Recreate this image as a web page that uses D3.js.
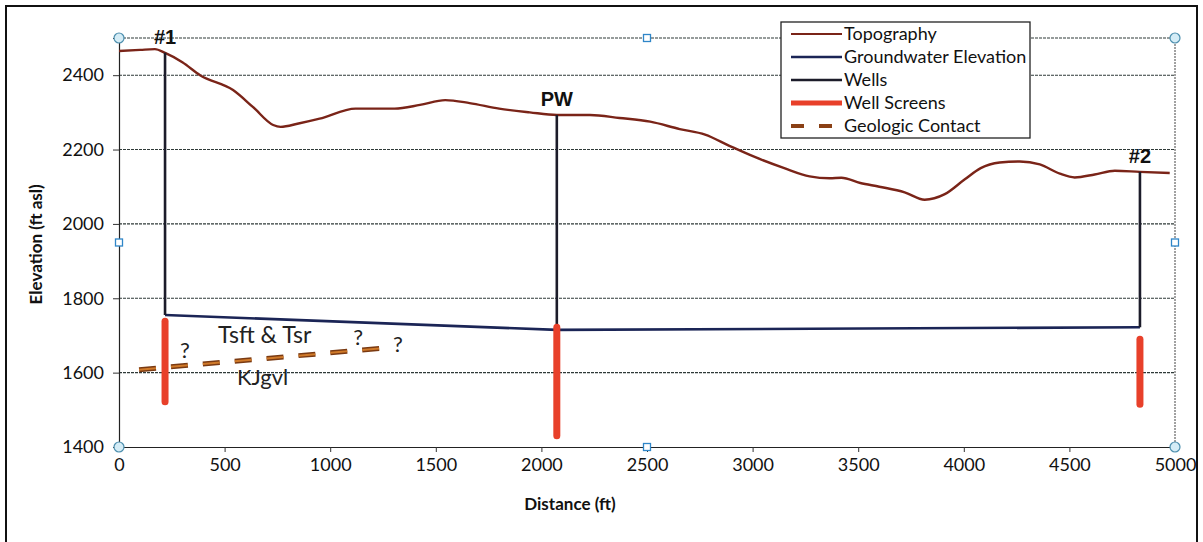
<!DOCTYPE html>
<html>
<head>
<meta charset="utf-8">
<script src="https://cdn.jsdelivr.net/npm/d3@7"></script>
<style>
  body { margin: 0; background: #fff; }
  svg { display: block; font-family: Lato, "Open Sans", sans-serif; }
</style>
</head>
<body>
<div id="chart"></div>
<script>
// chart data
const topoDist = [0, 100, 170, 218, 300, 384, 540, 635, 730, 765, 850, 950, 1120, 1305, 1425, 1545, 1660, 1800, 1945, 2073, 2230, 2370, 2515, 2655, 2775, 2890, 3010, 3150, 3270, 3365, 3420, 3510, 3600, 3720, 3815, 3910, 4005, 4080, 4170, 4265, 4360, 4455, 4525, 4620, 4715, 4834, 4975];
const topoElev = [2465, 2468, 2470, 2460, 2435, 2400, 2360, 2314, 2266, 2261, 2270, 2283, 2310, 2310, 2320, 2333, 2325, 2310, 2300, 2293, 2293, 2285, 2275, 2255, 2240, 2210, 2180, 2150, 2128, 2123, 2124, 2110, 2100, 2085, 2065, 2080, 2120, 2150, 2165, 2168, 2160, 2135, 2125, 2133, 2143, 2140, 2137];

const wellNames = ["#1", "PW", "#2"];
const wellDist = [218, 2073, 4834];
const wellTop = [2460, 2293, 2140];
const wellBottom = [1755, 1715, 1722];
const screenTop = [1738, 1722, 1690];
const screenBottom = [1522, 1430, 1515];

const gwDist = [218, 2073, 4834];
const gwElev = [1755, 1715, 1722];

const contactDist = [95, 1235];
const contactElev = [1608, 1665];

const xTicks = [0, 500, 1000, 1500, 2000, 2500, 3000, 3500, 4000, 4500, 5000];
const yTicks = [1400, 1600, 1800, 2000, 2200, 2400];

const legendItems = ["Topography", "Groundwater Elevation", "Wells", "Well Screens", "Geologic Contact"];

const width = 1203, height = 542;
const margin = { top: 38, right: 28, bottom: 95, left: 119 };

const svg = d3.select("#chart").append("svg")
  .attr("width", width)
  .attr("height", height);

// outer frame
svg.append("rect")
  .attr("x", 6).attr("y", 6)
  .attr("width", 1191).attr("height", 560)
  .attr("fill", "none").attr("stroke", "#111").attr("stroke-width", 2);

const x = d3.scaleLinear().domain([0, 5000]).range([margin.left, width - margin.right]);
const y = d3.scaleLinear().domain([1400, 2500]).range([height - margin.bottom, margin.top]);

// gridlines
svg.append("g")
  .selectAll("line")
  .data(yTicks.slice(1).concat([2500]))
  .join("line")
  .attr("x1", x(0)).attr("x2", x(5000))
  .attr("y1", d => y(d)).attr("y2", d => y(d))
  .attr("stroke", "#2f3a38").attr("stroke-width", 1.1).attr("stroke-dasharray", "3,1");

svg.append("line")
  .attr("x1", x(5000)).attr("x2", x(5000))
  .attr("y1", y(2500)).attr("y2", y(1400))
  .attr("stroke", "#444").attr("stroke-width", 1).attr("stroke-dasharray", "2,1");

// axes
const xAxis = svg.append("g")
  .attr("transform", `translate(0,${y(1400)})`)
  .call(d3.axisBottom(x).tickValues(xTicks).tickSize(5).tickPadding(6).tickFormat(d3.format("d")));
xAxis.select(".domain").attr("stroke", "#222").attr("stroke-width", 1.2);
xAxis.selectAll("line").attr("stroke", "#333");
xAxis.selectAll("text").attr("font-size", 18).attr("fill", "#111").attr("font-family", "Lato, sans-serif");

const yAxis = svg.append("g")
  .attr("transform", `translate(${x(0)},0)`)
  .call(d3.axisLeft(y).tickValues(yTicks).tickSize(6).tickPadding(9).tickFormat(d3.format("d")));
yAxis.select(".domain").attr("stroke", "#222").attr("stroke-width", 1.2);
yAxis.selectAll("line").attr("stroke", "#333");
yAxis.selectAll("text").attr("font-size", 18).attr("fill", "#111").attr("font-family", "Lato, sans-serif");

// axis titles
svg.append("text")
  .attr("x", 570).attr("y", 510)
  .attr("text-anchor", "middle")
  .attr("font-size", 17).attr("font-weight", "bold").attr("fill", "#111")
  .text("Distance (ft)");

svg.append("text")
  .attr("transform", `translate(42,${y(1945)}) rotate(-90)`)
  .attr("text-anchor", "middle")
  .attr("font-size", 17).attr("font-weight", "bold").attr("fill", "#111")
  .text("Elevation (ft asl)");

// topography
const line = d3.line().x(d => x(d[0])).y(d => y(d[1])).curve(d3.curveMonotoneX);
svg.append("path")
  .datum(d3.zip(topoDist, topoElev))
  .attr("d", line)
  .attr("fill", "none").attr("stroke", "#7a2418").attr("stroke-width", 2.4);

// groundwater
svg.append("path")
  .datum(d3.zip(gwDist, gwElev))
  .attr("d", d3.line().x(d => x(d[0])).y(d => y(d[1])))
  .attr("fill", "none").attr("stroke", "#1b2556").attr("stroke-width", 2.6);

// wells
svg.append("g")
  .selectAll("line")
  .data(wellDist)
  .join("line")
  .attr("x1", d => x(d)).attr("x2", d => x(d))
  .attr("y1", (d, i) => y(wellTop[i])).attr("y2", (d, i) => y(wellBottom[i]))
  .attr("stroke", "#1c1c2a").attr("stroke-width", 2.6);

// well screens
svg.append("g")
  .selectAll("line")
  .data(wellDist)
  .join("line")
  .attr("x1", d => x(d)).attr("x2", d => x(d))
  .attr("y1", (d, i) => y(screenTop[i])).attr("y2", (d, i) => y(screenBottom[i]))
  .attr("stroke", "#e8402a").attr("stroke-width", 7).attr("stroke-linecap", "round");

// geologic contact
svg.append("line")
  .attr("x1", x(contactDist[0])).attr("x2", x(contactDist[1]))
  .attr("y1", y(contactElev[0])).attr("y2", y(contactElev[1]))
  .attr("stroke", "#7a3a12").attr("stroke-width", 5).attr("stroke-dasharray", "17,15");
svg.append("line")
  .attr("x1", x(contactDist[0])).attr("x2", x(contactDist[1]))
  .attr("y1", y(contactElev[0])).attr("y2", y(contactElev[1]))
  .attr("stroke", "#d07a2a").attr("stroke-width", 2).attr("stroke-dasharray", "17,15");

// well labels
svg.append("g")
  .selectAll("text")
  .data(wellNames)
  .join("text")
  .attr("x", (d, i) => x(wellDist[i]))
  .attr("y", (d, i) => y(wellTop[i]) - 9)
  .attr("text-anchor", "middle")
  .attr("font-family", "'Liberation Sans Narrow', 'Liberation Sans', sans-serif")
  .attr("font-weight", "bold").attr("font-size", 20).attr("fill", "#111")
  .text(d => d);

// unit labels
const notes = [
  { t: "Tsft & Tsr", d: 690, e: 1680, s: 23 },
  { t: "KJgvl", d: 680, e: 1567, s: 22 },
  { t: "?", d: 312, e: 1639, s: 22 },
  { t: "?", d: 1132, e: 1674, s: 22 },
  { t: "?", d: 1321, e: 1655, s: 22 }
];
svg.append("g")
  .selectAll("text")
  .data(notes)
  .join("text")
  .attr("x", d => x(d.d)).attr("y", d => y(d.e))
  .attr("text-anchor", "middle")
  .attr("font-size", d => d.s).attr("fill", "#222")
  .text(d => d.t);

// legend
const lg = svg.append("g").attr("transform", "translate(781,22)");
lg.append("rect")
  .attr("width", 249).attr("height", 116)
  .attr("fill", "#fff").attr("stroke", "#222").attr("stroke-width", 1.3);
const lgStyles = [
  { c: "#7a2418", w: 2.2, dash: null },
  { c: "#1b2556", w: 2.5, dash: null },
  { c: "#1c1c2a", w: 2.5, dash: null },
  { c: "#e8402a", w: 5, dash: null },
  { c: "#8a4015", w: 4, dash: "13,15" }
];
const li = lg.selectAll("g.item")
  .data(legendItems)
  .join("g")
  .attr("class", "item")
  .attr("transform", (d, i) => `translate(0,${12 + i * 23})`);
li.append("line")
  .attr("x1", 10).attr("x2", 61)
  .attr("stroke", (d, i) => lgStyles[i].c)
  .attr("stroke-width", (d, i) => lgStyles[i].w)
  .attr("stroke-dasharray", (d, i) => lgStyles[i].dash);
li.append("text")
  .attr("x", 63).attr("dy", "0.35em")
  .attr("font-size", 18).attr("fill", "#111")
  .text(d => d);

// selection handles at the plot area edges
const circ = [[0, 2500], [5000, 2500], [0, 1400], [5000, 1400]];
svg.append("g").selectAll("circle")
  .data(circ)
  .join("circle")
  .attr("cx", d => x(d[0])).attr("cy", d => y(d[1])).attr("r", 5)
  .attr("fill", "#d4ecf6").attr("stroke", "#4d8fae").attr("stroke-width", 1.2);
const sq = [[2500, 2500], [0, 1950], [5000, 1950], [2500, 1400]];
svg.append("g").selectAll("rect")
  .data(sq)
  .join("rect")
  .attr("x", d => x(d[0]) - 3.5).attr("y", d => y(d[1]) - 3.5)
  .attr("width", 7).attr("height", 7)
  .attr("fill", "#fff").attr("stroke", "#2f86c8").attr("stroke-width", 1.3);
</script>
</body>
</html>
